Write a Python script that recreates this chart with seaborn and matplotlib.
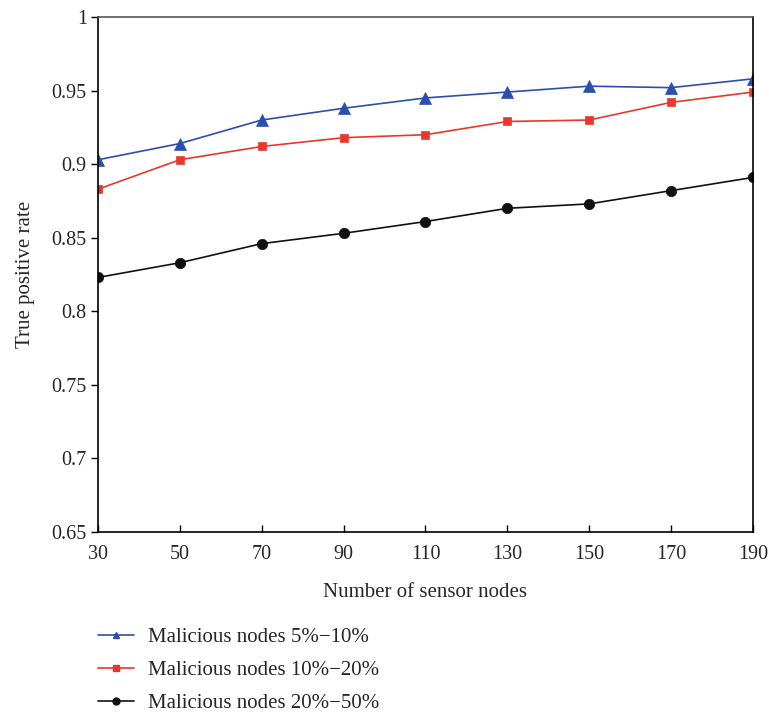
import matplotlib
matplotlib.use("Agg")
import matplotlib.pyplot as plt
import seaborn as sns
import pandas as pd
from matplotlib.lines import Line2D

nodes = [30, 50, 70, 90, 110, 130, 150, 170, 190]
series_names = ["Malicious nodes 5%\u221210%", "Malicious nodes 10%\u221220%", "Malicious nodes 20%\u221250%"]
tpr_5_10 = [0.903, 0.914, 0.930, 0.938, 0.945, 0.949, 0.953, 0.952, 0.958]
tpr_10_20 = [0.883, 0.903, 0.912, 0.918, 0.920, 0.929, 0.930, 0.942, 0.949]
tpr_20_50 = [0.823, 0.833, 0.846, 0.853, 0.861, 0.870, 0.873, 0.882, 0.891]
y_ticks = [0.65, 0.7, 0.75, 0.8, 0.85, 0.9, 0.95, 1]
y_tick_labels = ["0.65", "0.7", "0.75", "0.8", "0.85", "0.9", "0.95", "1"]

df = pd.DataFrame({
    "nodes": nodes * 3,
    "tpr": tpr_5_10 + tpr_10_20 + tpr_20_50,
    "series": [series_names[0]] * 9 + [series_names[1]] * 9 + [series_names[2]] * 9,
})

sns.set_theme(style="white")
plt.rcParams["font.family"] = ["Liberation Serif", "DejaVu Serif"]

fig = plt.figure(figsize=(7.69, 7.12), dpi=100)
ax = fig.add_axes([0.1274, 0.2528, 0.9792 - 0.1274, 0.9761 - 0.2528])

palette = {series_names[0]: "#2b4fae", series_names[1]: "#e8382b", series_names[2]: "#111111"}
markers = {series_names[0]: "^", series_names[1]: "s", series_names[2]: "o"}
sizes_m = {series_names[0]: 8, series_names[1]: 5.5, series_names[2]: 7.5}

for name in series_names:
    sub = df[df["series"] == name]
    sns.lineplot(data=sub, x="nodes", y="tpr", color=palette[name], marker=markers[name],
                 markersize=sizes_m[name], markeredgewidth=0.5, markeredgecolor=palette[name],
                 linewidth=1.2, ax=ax, legend=False)

ax.set_xlim(30, 190)
ax.set_ylim(0.65, 1.0)
ax.set_xticks(nodes)
ax.set_xticklabels([str(n) for n in nodes])
ax.set_yticks(y_ticks)
ax.set_yticklabels(y_tick_labels)
ax.tick_params(axis="y", direction="out", length=5, width=1, labelsize=14.5, color="black", left=True, pad=3)
ax.tick_params(axis="x", direction="in", length=5, width=1, labelsize=14.5, color="black", bottom=True, pad=9)
for s in ["left", "bottom", "right"]:
    ax.spines[s].set_color("black")
    ax.spines[s].set_linewidth(1.2)
ax.spines["top"].set_color("#555555")
ax.spines["top"].set_linewidth(1.2)
ax.set_xlabel("Number of sensor nodes", fontsize=15, labelpad=14)
ax.set_ylabel("True positive rate", fontsize=15, labelpad=12)

hs = [Line2D([], [], color=palette[n], marker=markers[n], markersize=5, linewidth=1.2) for n in series_names]
fig.legend(hs, series_names, loc="upper left", bbox_to_anchor=(0.1274, 0.119), frameon=False,
           fontsize=15, handlelength=1.75, handletextpad=0.67, labelspacing=0.65, borderpad=0,
           borderaxespad=0)

fig.savefig("out.png", dpi=100)
